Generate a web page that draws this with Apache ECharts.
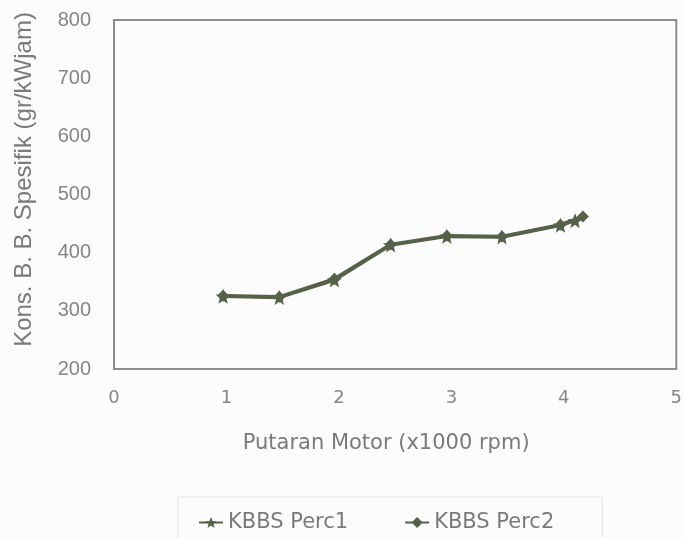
<!DOCTYPE html>
<html><head><meta charset="utf-8">
<script src="https://cdn.jsdelivr.net/npm/echarts@6/dist/echarts.min.js"></script>
<style>html,body{margin:0;padding:0;background:#fcfcfc}#c{width:685px;height:538px}</style>
</head><body><div id="c"></div>
<script>
const perc1X = [0.97, 1.47, 1.96, 2.46, 2.96, 3.45, 3.97, 4.1];
const perc1Y = [325, 323, 353, 413, 428, 427, 447, 455];
const perc2X = [0.97, 1.47, 1.96, 2.46, 2.96, 3.45, 3.97, 4.17];
const perc2Y = [326, 324, 355, 414, 429, 428, 448, 462];
const seriesNames = ['KBBS Perc1', 'KBBS Perc2'];
const xTicks = [0, 1, 2, 3, 4, 5];
const yTicks = [200, 300, 400, 500, 600, 700, 800];

const star = 'path://M0,-10 L2.9,-3.1 L9.5,-3.1 L4.2,1.2 L5.9,8.1 L0,4 L-5.9,8.1 L-4.2,1.2 L-9.5,-3.1 L-2.9,-3.1 Z';
const col = '#566149';
const grey = '#858585';
const chart = echarts.init(document.getElementById('c'));
chart.setOption({
  backgroundColor: '#fcfcfc',
  animation: false,
  grid: {left: 114, top: 20, width: 564, height: 349, show: true, borderColor: '#8c8c8c', borderWidth: 2, backgroundColor: 'transparent'},
  xAxis: {type: 'value', min: xTicks[0], max: xTicks[xTicks.length-1], interval: 1,
    name: 'Putaran Motor (x1000 rpm)', nameLocation: 'middle', nameGap: 64,
    nameTextStyle: {fontFamily: 'DejaVu Sans', fontSize: 21, color: '#7a7a7a', padding: [0, 18, 0, 0]},
    axisLine: {show: false}, axisTick: {show: false}, splitLine: {show: false},
    axisLabel: {margin: 20, fontFamily: 'DejaVu Sans', fontSize: 18, color: grey}},
  yAxis: {type: 'value', min: yTicks[0], max: yTicks[yTicks.length-1], interval: 100,
    name: 'Kons. B. B. Spesifik (gr/kWjam)', nameLocation: 'middle', nameGap: 78,
    nameTextStyle: {fontFamily: 'Liberation Sans', fontSize: 24, color: '#7a7a7a', padding: [0, 0, 0, 30]},
    axisLine: {show: false}, axisTick: {show: false}, splitLine: {show: false},
    axisLabel: {margin: 23, fontFamily: 'Liberation Sans', fontSize: 20, color: grey}},
  legend: {left: 178, top: 497, padding: [15, 48, 30, 20], itemGap: 56,
    borderColor: '#e2e2e2', borderWidth: 1, itemWidth: 24, itemHeight: 14,
    textStyle: {fontFamily: 'DejaVu Sans', fontSize: 21, color: '#7a7a7a'},
    data: seriesNames},
  series: [
    {name: seriesNames[0], type: 'line', data: perc1X.map((x, i) => [x, perc1Y[i]]),
     symbol: star, symbolSize: 15, lineStyle: {color: col, width: 3.5}, itemStyle: {color: col}},
    {name: seriesNames[1], type: 'line', data: perc2X.map((x, i) => [x, perc2Y[i]]),
     symbol: 'diamond', symbolSize: 12, lineStyle: {color: col, width: 3.5}, itemStyle: {color: col}}
  ]
});
</script></body></html>
